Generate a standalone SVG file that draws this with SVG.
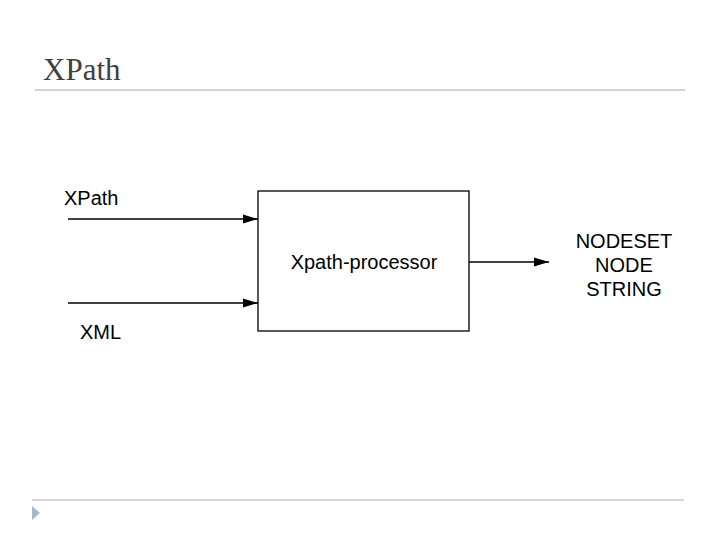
<svg xmlns="http://www.w3.org/2000/svg" width="720" height="540" viewBox="0 0 720 540">
<style>
.t{font-family:"Liberation Sans",Arial,sans-serif;font-size:20px;fill:#000}
.c{stroke:#000;stroke-width:1.3;fill:none}
</style>
<defs>
<marker id="ah" markerWidth="15" markerHeight="10" refX="15" refY="5" orient="auto" markerUnits="userSpaceOnUse">
<path d="M0,0.5 L15,5 L0,9.5 Z" fill="#000"/>
</marker>
</defs>
<rect width="720" height="540" fill="#fff"/>
<g id="header">
<text x="43" y="80" font-family="'Liberation Serif','DejaVu Serif',serif" font-size="31" fill="#404040">XPath</text>
<line x1="35" y1="90" x2="685" y2="90" stroke="#d3d3d3" stroke-width="2"/>
</g>
<g id="footer">
<line x1="32" y1="500" x2="684" y2="500" stroke="#c8c8c8" stroke-width="1.5"/>
<path d="M32,506 L40,513 L32,520 Z" fill="#a6b8cc"/>
</g>
<g id="processor">
<rect x="258" y="191" width="211" height="140" fill="#fff" stroke="#000" stroke-width="1.3"/>
<text class="t" x="364" y="269" text-anchor="middle">Xpath-processor</text>
</g>
<g id="xpath-input">
<text class="t" x="64" y="205">XPath</text>
</g>
<g id="xml-input">
<text class="t" x="80" y="339">XML</text>
</g>
<g id="output">
<text class="t" x="624" y="248" text-anchor="middle">NODESET</text>
<text class="t" x="624" y="272" text-anchor="middle">NODE</text>
<text class="t" x="624" y="296" text-anchor="middle">STRING</text>
</g>
<g id="connectors">
<line class="c" x1="68" y1="219" x2="258" y2="219" marker-end="url(#ah)"/>
<line class="c" x1="68" y1="303" x2="258" y2="303" marker-end="url(#ah)"/>
<line class="c" x1="469" y1="262" x2="549" y2="262" marker-end="url(#ah)"/>
</g>
</svg>
